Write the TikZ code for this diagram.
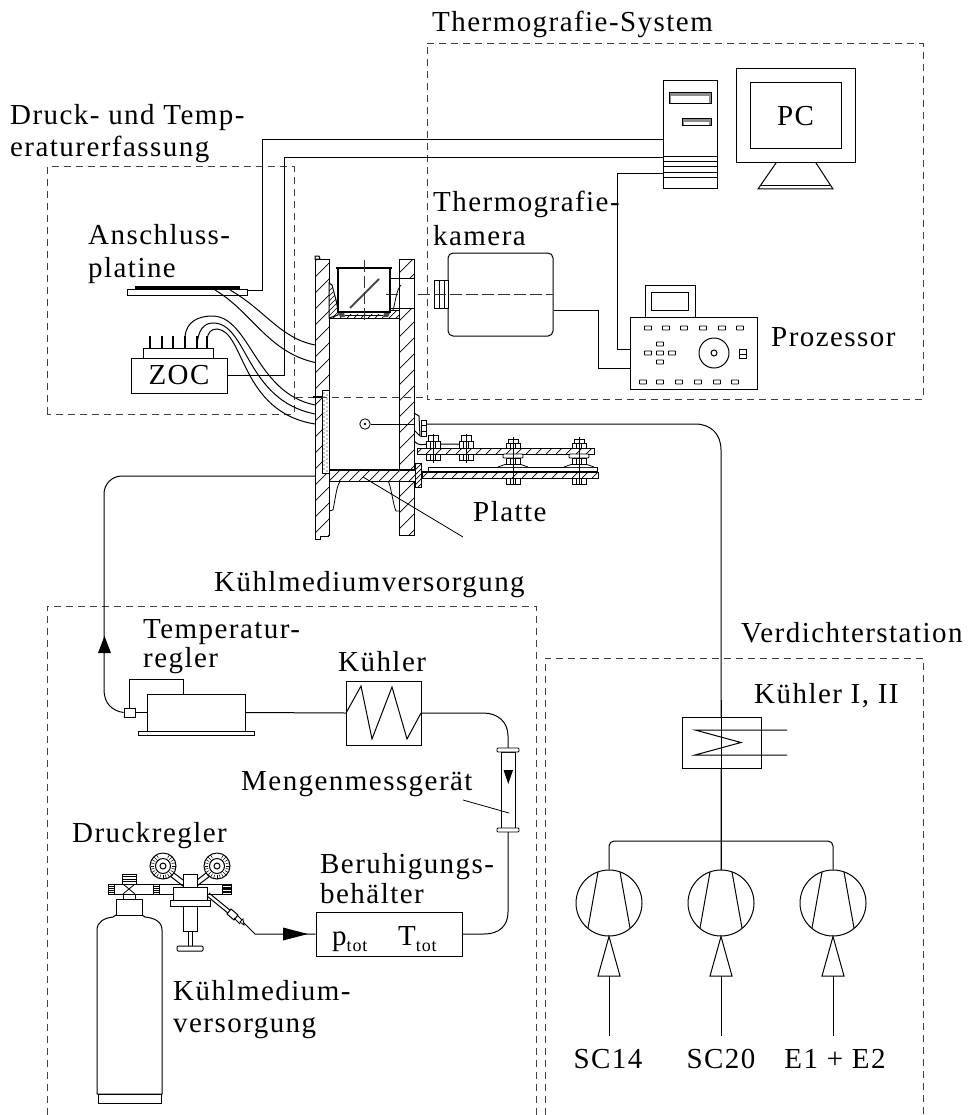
\documentclass[tikz,border=0pt]{standalone}
\usepackage{fontspec}
\setmainfont{Liberation Serif}[LetterSpace=5]
\usetikzlibrary{arrows.meta}
\tikzset{
  lbl/.style={anchor=base west,inner sep=0pt,font=\fontsize{29}{29}\selectfont},
  ctr/.style={anchor=base,inner sep=0pt,font=\fontsize{29}{29}\selectfont},
  groupbox/.style={draw=black!75,line width=1pt,dash pattern=on 7pt off 5pt},
  wire/.style={draw=black,line width=1pt},
  part/.style={draw=black,line width=1pt,fill=white},
  thin part/.style={draw=black,line width=0.8pt,fill=white},
  hatchline/.style={draw=black,line width=0.7pt},
  axis/.style={draw=black!80,line width=0.8pt,dash pattern=on 12pt off 4pt},
}
\newcommand{\hatchrect}[5]{%
  \fill[white] (#1,#2) rectangle (#3,#4);
  \begin{scope}
    \clip (#1,#2) rectangle (#3,#4);
    \pgfmathsetmacro{\hstart}{int((#1+#2)/#5)*#5}
    \pgfmathsetmacro{\hnext}{\hstart+#5}
    \pgfmathsetmacro{\hend}{#3+#4}
    \foreach \c in {\hstart,\hnext,...,\hend}{
      \draw[hatchline] ({\c-#2},#2) -- ({\c-#4},#4);
    }
  \end{scope}
  \draw[part,fill=none] (#1,#2) rectangle (#3,#4);
}
\newcommand{\nut}[4]{\draw[thin part] (#1,#2) rectangle (#3,#4);
  \draw[line width=0.5pt] ({(#1+#3)/2-2.5},#2) -- ({(#1+#3)/2-2.5},#4) ({(#1+#3)/2+2.5},#2) -- ({(#1+#3)/2+2.5},#4);}
\newcommand{\barsblock}[5]{\draw[thin part] (#1,#2) rectangle (#3,#4);
  \foreach \i in {1,...,#5}{\draw[line width=0.5pt] (#1,{#2+(#4-#2)*\i/(#5+1)}) -- (#3,{#2+(#4-#2)*\i/(#5+1)});}}
\newcommand{\btn}[2]{\draw[line width=0.8pt,rounded corners=0.5pt] ({#1-3.5},{#2-2}) rectangle ({#1+3.5},{#2+2});}
\begin{document}
\begin{tikzpicture}[x=1pt,y=-1pt]
\useasboundingbox (0,0) rectangle (970,1115);
\fill[white] (0,0) rectangle (970,1115);

% ---- group frames
\draw[groupbox] (427,44) -- (923,44) -- (923,399) -- (427,399) -- cycle;
\draw[groupbox] (47,414) -- (47,167) -- (294,167) -- (294,414) -- cycle;
\draw[groupbox] (47,1115) -- (47,606) -- (536,606) -- (536,1115);
\draw[groupbox] (545,1115) -- (545,658) -- (923,658) -- (923,1115);

% ---- computer
\node[part,minimum width=54pt,minimum height=108pt,inner sep=0pt] (tower) at (690,135) {};
\foreach \yy in {157,162,167,173,178}{\draw[wire] (663,\yy) -- (717,\yy);}
\draw[part,fill=black!45] (669,93) rectangle (711,104);
\fill[white] (671,96) rectangle (709,103);
\draw[part,fill=black!45] (682,119) rectangle (711,126);
\fill[white] (684,122) rectangle (709,125);
\node[part,minimum width=119pt,minimum height=94pt,inner sep=0pt] (monitor) at (795.5,116) {};
\node[part,minimum width=91pt,minimum height=66pt,inner sep=0pt,font=\fontsize{29}{29}\selectfont] (pc) at (795.5,116) {PC};
\draw[wire] (776,163) -- (758,189) -- (833,189) -- (816,163);
\draw[wire] (761,186) -- (830,186);

% ---- processor
\node[part,minimum width=50pt,minimum height=32pt,inner sep=0pt] (display) at (670,301) {};
\draw[wire] (651,292) rectangle (688,310);
\node[part,minimum width=127pt,minimum height=72pt,inner sep=0pt] (proc) at (693.5,353) {};
\foreach \xx in {648,666,684,703,722,740}{\btn{\xx}{328}}
\foreach \xx in {643,660,679,698,717,735}{\btn{\xx}{382}}
\btn{660}{344}\btn{648}{353}\btn{660}{353}\btn{672}{353}\btn{660}{362}
\draw[wire] (714,353) circle (15);
\draw[wire] (714,353) circle (3);
\draw[wire] (739,349) rectangle (746,358) (739,354) -- (746,354);

% ---- camera
\node[part,rounded corners=5pt,minimum width=105pt,minimum height=83pt,inner sep=0pt] (camera) at (500.5,294.5) {};
\draw[thin part] (434,280) rectangle (448,308);
\foreach \xx in {439,444}{\draw[line width=0.5pt] (\xx,280) -- (\xx,308);}
\draw[axis] (386,294) -- (553,294);

% ---- wires in upper half
\coordinate (pa) at (663,140);
\coordinate (pb) at (663,158);
\coordinate (pc3) at (663,174);
\draw[wire] (tower.west |- pa) -- (262,140) -- (262,290) -- (247,290);
\draw[wire] (tower.west |- pb) -- (284,158) -- (284,375) -- (227,375);
\draw[wire] (tower.west |- pc3) -- (617,174) -- (617,349) -- (proc.west |- 0,349);
\draw[wire] (camera.east |- 0,310) -- (598,310) -- (598,368) -- (proc.west |- 0,368);

% ---- test section walls
\hatchrect{315}{259}{329}{539}{16}
\hatchrect{399}{259}{414}{535}{16}
% wall end details
\draw[wire,fill=white] (315,259) -- (315,256) -- (319,256) -- (320,259) -- cycle;
\fill[white] (320.5,536) rectangle (329.5,540);
\draw[wire] (320,539) -- (320,536) -- (329,536);
\fill[white] (400,278) rectangle (413.5,308);
\draw[wire] (390,278) -- (414,278);
\draw[wire] (390,308) -- (414,308);
\draw[wire] (414,259) -- (414,535);
\draw[wire] (399,278) -- (399,308);
\draw[line width=0.8pt] (401,285) .. controls (396,290) and (395,305) .. (393,310);
% window seat wedges
\hatchrect{329}{310}{399}{318}{7}
\fill[white] (338,310) rectangle (390,314);
\draw[part,fill=white] (329,283) -- (332,285) -- (336,300) -- (338,310) -- (338,315) -- (329,318) -- cycle;
\begin{scope}
  \clip (329,283) -- (332,285) -- (336,300) -- (338,310) -- (338,315) -- (329,318) -- cycle;
  \foreach \c in {620,625,...,670}{\draw[line width=0.5pt] (\c-283,283) -- (\c-318,318);}
\end{scope}
\draw[wire] (329,318) -- (399,318);
% window
\draw[line width=2pt] (338,268) -- (338,312) -- (390,312) -- (390,268);
\draw[line width=2pt] (336,267.5) -- (392,267.5);
\draw[line width=0.8pt] (345,315) -- (383,315);
\fill[black!70] (338,313) -- (344,313) -- (345,317) -- (340,317) -- cycle;
\fill[black!70] (390,313) -- (384,313) -- (383,317) -- (388,317) -- cycle;
\draw[line width=2pt,black!70] (350,308) -- (379,279);
\draw[axis] (364,260) -- (364,323);

% ---- plate
\hatchrect{329}{470}{415}{481}{10}
\draw[line width=1.6pt] (329,470) -- (415,470);
\hatchrect{415}{463}{421}{487}{5}
\draw[line width=0.8pt] (341,481) .. controls (337,483) and (336,495) .. (333,510) -- (329,511);
\draw[line width=0.8pt] (388,481) .. controls (391,485) and (393,505) .. (396,511) -- (399,511);

% ---- stippled strip
\draw[thin part] (322,390) rectangle (329,473);
\foreach \yy in {393,397,...,471}{
  \fill (324,\yy) circle (0.6);
  \fill (327,\yy+2) circle (0.6);
}

% ---- bracket rails
\draw[wire] (414,441) .. controls (420,447) and (423,444) .. (428,444) -- (472,444) -- (472,448);
\hatchrect{417}{448}{594}{454}{10}
\hatchrect{422}{472}{598}{478}{10}
\draw[thin part] (428,472) -- (428,467) -- (597,467) -- (597,472);
\draw[line width=1.2pt] (421,472) -- (598,472);
% wall bolt
\draw[wire] (414,413) -- (419,416) -- (420,436) -- (414,430);
\draw[thin part] (421,420) rectangle (426,436);
\draw[line width=0.5pt] (421,425) -- (426,425) (421,431) -- (426,431);
% small bolts
\foreach \xx in {433,466}{
  \draw[thin part] (\xx-5,435) rectangle (\xx+5,441);
  \draw[thin part] (\xx-7,441) rectangle (\xx+7,448);
  \draw[line width=0.5pt] (\xx-2.5,441) -- (\xx-2.5,448) (\xx+2.5,441) -- (\xx+2.5,448);
  \nut{\xx-7}{454}{\xx+7}{460}
  \draw[line width=0.7pt] (\xx,434) -- (\xx,463);
}
% big bolts
\foreach \xx in {513,579}{
  \draw[thin part] (\xx-5,439) rectangle (\xx+5,443);
  \draw[thin part] (\xx-7,443) rectangle (\xx+7,448);
  \draw[line width=0.5pt] (\xx-2.5,443) -- (\xx-2.5,448) (\xx+2.5,443) -- (\xx+2.5,448);
  \draw[thin part,rounded corners=1pt] (\xx-10,454) rectangle (\xx+10,458);
  \nut{\xx-7}{458}{\xx+7}{465}
  \draw[thin part] (\xx-15,467) -- (\xx-8,464.5) -- (\xx+8,464.5) -- (\xx+15,467);
  \nut{\xx-7}{478}{\xx+7}{484}
  \draw[line width=0.7pt] (\xx,437) -- (\xx,485);
}

% ---- frame dash that runs through the section
\draw[groupbox] (296,397) -- (427,397);
\draw[line width=1.2pt] (313,397) -- (322,397);

% ---- port and long supply line
\node[draw,circle,line width=0.8pt,minimum size=10.5pt,inner sep=0pt] (port) at (365,424) {};
\fill (365,424) circle (1.3);
\draw[wire] (port.east) -- (414,424);
\draw[wire] (426,424) -- (695,424) .. controls (711,424) and (721,434) .. (721,450) -- (721,871);

% ---- ZOC and platine
\node[part,minimum width=96pt,minimum height=35pt,inner sep=0pt,font=\fontsize{29}{29}\selectfont] (zoc) at (179,375.5) {ZOC};
\node[part,minimum width=70pt,minimum height=10pt,inner sep=0pt] (zoctop) at (178,353) {};
\foreach \xx in {150,162,173}{\draw[line width=1.2pt] (\xx,336) -- (\xx,348);}
\foreach \xx in {185,197,207}{\draw[line width=1.2pt] (\xx,336) -- (\xx,348);}
\node[part,minimum width=120pt,minimum height=6pt,inner sep=0pt] (platine) at (187,292) {};
\fill (135,286) rectangle (240,289);
\draw[wire] (215,290) .. controls (252,312) and (268,352) .. (315,362.5);
\draw[wire] (230,290) .. controls (265,310) and (280,338) .. (315,345);
\draw[wire] (185,337) .. controls (186,322) and (198,316) .. (212,316) .. controls (250,316) and (255,393) .. (315,405);
\draw[wire] (197,345) .. controls (198,330) and (204,323) .. (213,323) .. controls (248,323) and (245,400) .. (315,414);
\draw[wire] (207,340) .. controls (208,332) and (211,329) .. (217,329) .. controls (245,331) and (240,412) .. (315,424);

% ---- coolant line to test section
\coordinate (cin) at (315,476);
\node[thin part,minimum width=11pt,minimum height=9pt,inner sep=0pt] (tsense) at (129.5,712.5) {};
\draw[wire] (cin) -- (122,476) .. controls (112,476) and (104,484) .. (104,494) -- (104,690) .. controls (104,703) and (112,711) .. (tsense.west);
\fill (104.5,636) -- (98,653) -- (111,653) -- cycle;

% ---- Temperaturregler
\node[part,minimum width=98pt,minimum height=37pt,inner sep=0pt] (regler) at (196,712.5) {};
\node[thin part,minimum width=116pt,minimum height=4.5pt,inner sep=0pt] (rbase) at (196,733.5) {};
\draw[wire] (129,708) -- (129,679) -- (183,679) -- (183,694);
\draw[wire] (tsense.east) -- (regler.west |- tsense.east);

% ---- Kuehler
\node[part,minimum width=75pt,minimum height=64pt,inner sep=0pt] (kuehler) at (383.5,713) {};
\draw[wire] (346,713) -- (361,686) -- (372,739) -- (392,687) -- (407,739) -- (421,713);
\draw[wire] (regler.east) -- (kuehler.west);

% ---- flowmeter
\coordinate (fmtop) at (508,748);
\draw[wire] (kuehler.east) -- (483,713) .. controls (498,713) and (508,722) .. (508,736) -- (fmtop);
\draw[part] (501,752) rectangle (515,828);
\draw[thin part,rounded corners=1pt] (497,748) rectangle (519,752);
\draw[thin part,rounded corners=1pt] (497,828) rectangle (519,832);
\fill (503.5,770) -- (513,770) -- (508.3,784) -- cycle;
\draw[line width=0.8pt] (463,800) -- (509,813);

% ---- settling vessel
\node[part,minimum width=146pt,minimum height=44pt,inner sep=0pt] (vessel) at (389,934) {};
\draw[wire] (508,832) -- (508,912) .. controls (508,926) and (499,934) .. (484,934) -- (vessel.east);
\node[anchor=base west,inner sep=0pt,font=\fontsize{29}{29}\selectfont] (ptot) at (332,945) {p\raisebox{-6pt}{\fontsize{18}{18}\selectfont tot}};
\node[anchor=base west,inner sep=0pt,font=\fontsize{29}{29}\selectfont] (ttot) at (398,945) {T\raisebox{-6pt}{\fontsize{18}{18}\selectfont tot}};

% ---- cylinder
\draw[part] (97,1094) -- (97,930) .. controls (97,922) and (104,918) .. (113,917) -- (116,915) -- (142,915) -- (145,917) .. controls (155,918) and (162,922) .. (162,930) -- (162,1094) -- cycle;
\draw[wire] (98,1094) rectangle (161,1103);
\draw[part] (116,899) rectangle (142,915);
\draw[thin part] (123,894) rectangle (135,899);
\draw[thin part] (108,884) rectangle (231,894);
\barsblock{108}{884}{114}{894}{4}
\barsblock{153}{884}{159}{894}{4}
\barsblock{222}{884}{231}{894}{6}
\draw[thin part] (123,884) -- (135,894) (135,884) -- (123,894);
\barsblock{122}{874}{136}{884}{3}
\foreach \cx in {163,217}{
  \draw[part] (\cx,866) circle (13);
  \draw[wire] (\cx,866) circle (7.5);
  \draw[wire] (\cx,866) circle (3);
  \foreach \a in {120,135,...,420}{\draw[line width=0.5pt] ({\cx+9*cos(\a)},{866-9*sin(\a)}) -- ({\cx+12.5*cos(\a)},{866-12.5*sin(\a)});}
}
\draw[wire] (170,876) -- (183,886) (174,873) -- (183,880);
\draw[wire] (210,876) -- (197,886) (206,873) -- (197,880);
\draw[part] (183,874) rectangle (197,887);
\draw[part] (173,887) rectangle (207,900);
\draw[part] (170,900) rectangle (210,906);
\draw[part] (183,906) rectangle (197,931);
\draw[wire] (188.5,931) -- (188.5,947) (192,931) -- (192,947);
\draw[part,rounded corners=1pt] (177,946) rectangle (203,951);
\draw[wire] (207,896) -- (229,914) (209,893) -- (231,911);
\draw[part] (227,914) -- (231,909) -- (238,915) -- (234,920) -- cycle;
\draw[wire] (234,918) -- (240,924) (237,915) -- (243,921);
\draw[thin part] (240,922) -- (243,919) -- (244,925) -- cycle;

% ---- feed to vessel
\coordinate (hoseend) at (243,922);
\draw[wire] (hoseend) -- (255,934) -- (vessel.west);
\fill (283,927.5) -- (308,934) -- (283,940.5) -- cycle;

% ---- compressor station
\node[part,minimum width=79pt,minimum height=51pt,inner sep=0pt] (ckuehler) at (721.5,742.5) {};
\draw[wire] (787,730) -- (695,730) -- (741,742.5) -- (695,755) -- (787,755);
\draw[wire] (721,700) -- (721,871);
\node[circle,part,minimum size=66pt,inner sep=0pt] (c1) at (609,903) {};
\node[circle,part,minimum size=66pt,inner sep=0pt] (c2) at (721,903) {};
\node[circle,part,minimum size=66pt,inner sep=0pt] (c3) at (833,903) {};
\draw[wire,rounded corners=5pt] (c1.north) -- (609,841) -- (833,841) -- (c3.north);
\foreach \cx/\nm in {609/c1,721/c2,833/c3}{
  \draw[wire] (\cx-11,872) -- (\cx-21,928) (\cx+11,872) -- (\cx+21,928);
  \draw[wire] (\nm.south) -- (\cx-11,976) -- (\cx+11,976) -- cycle;
  \draw[wire] (\cx,976) -- (\cx,1036);
}

% ---- labels
\node[lbl] (t1) at (432,32) {Thermografie-System};
\node[lbl] (t2) at (10,125) {Druck- und Temp-};
\node[lbl] (t3) at (10,157) {eraturerfassung};
\node[lbl] (t4) at (433,212) {Thermografie-};
\node[lbl] (t5) at (433,245) {kamera};
\node[lbl] (t6) at (88,244) {Anschluss-};
\node[lbl] (t7) at (88,277) {platine};
\node[lbl] (t8) at (771,346) {Prozessor};
\node[lbl] (t9) at (473,521) {Platte};
\node[lbl] (t10) at (214,591) {Kühlmediumversorgung};
\node[lbl] (t11) at (741,642) {Verdichterstation};
\node[lbl] (t12) at (754,703) {Kühler I, II};
\node[lbl] (t13) at (143,638) {Temperatur-};
\node[lbl] (t14) at (143,667) {regler};
\node[lbl] (t15) at (338,671) {Kühler};
\node[lbl] (t16) at (241,790) {Mengenmessgerät};
\node[lbl] (t17) at (72,842) {Druckregler};
\node[lbl] (t18) at (320,873) {Beruhigungs-};
\node[lbl] (t19) at (320,903) {behälter};
\node[lbl] (t20) at (173,1000) {Kühlmedium-};
\node[lbl] (t21) at (173,1032) {versorgung};
\node[ctr] (t22) at (608,1068) {SC14};
\node[ctr] (t23) at (721,1068) {SC20};
\node[ctr] (t24) at (835,1068) {E1 + E2};
\draw[line width=0.8pt] (363,477) -- (463,537);
\end{tikzpicture}
\end{document}
